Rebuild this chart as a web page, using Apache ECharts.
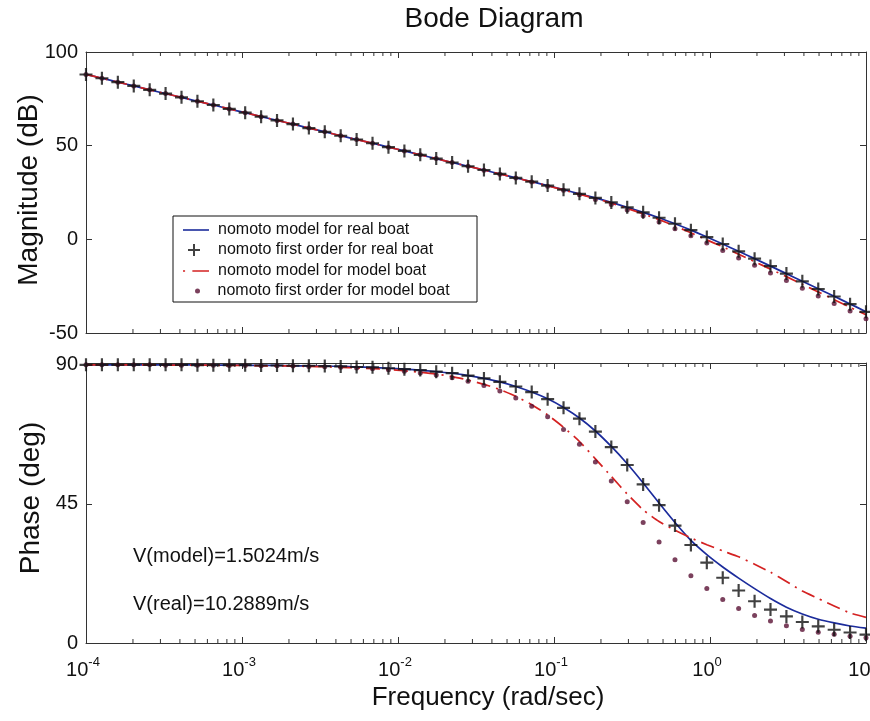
<!DOCTYPE html>
<html>
<head>
<meta charset="utf-8">
<script src="https://cdn.jsdelivr.net/npm/echarts@6/dist/echarts.min.js"></script>
<style>
html,body{margin:0;padding:0;background:#fff;}
#chart{width:870px;height:721px;}
</style>
</head>
<body>
<div id="chart"></div>
<script>
// Frequencies (rad/sec) at which the curves and markers were read
const freq = [1.000e-4, 1.265e-4, 1.600e-4, 2.024e-4, 2.560e-4, 3.237e-4, 4.095e-4, 5.179e-4, 6.551e-4, 8.286e-4,
  1.048e-3, 1.326e-3, 1.677e-3, 2.121e-3, 2.683e-3, 3.393e-3, 4.292e-3, 5.429e-3, 6.866e-3, 8.685e-3,
  1.099e-2, 1.389e-2, 1.758e-2, 2.223e-2, 2.812e-2, 3.556e-2, 4.498e-2, 5.690e-2, 7.197e-2, 9.103e-2,
  0.1151, 0.1456, 0.1842, 0.2330, 0.2947, 0.3728, 0.4715, 0.5964, 0.7543, 0.9541,
  1.207, 1.526, 1.931, 2.442, 3.089, 3.907, 4.942, 6.251, 7.906, 10.00];

// Magnitude (dB)
const magRealModel = [88.0, 86.0, 83.9, 81.9, 79.8, 77.8, 75.8, 73.7, 71.7, 69.6,
  67.6, 65.5, 63.5, 61.5, 59.4, 57.4, 55.3, 53.3, 51.3, 49.2,
  47.2, 45.1, 43.1, 41.0, 39.0, 37.0, 34.9, 32.8, 30.8, 28.7,
  26.5, 24.3, 22.1, 19.7, 17.1, 14.4, 11.5, 8.3, 4.9, 1.2,
  -2.5, -6.4, -10.3, -14.3, -18.3, -22.4, -26.4, -30.4, -34.5, -38.6];
const magRealFirst = [88.0, 86.0, 83.9, 81.9, 79.8, 77.8, 75.8, 73.7, 71.7, 69.6,
  67.6, 65.5, 63.5, 61.5, 59.4, 57.4, 55.3, 53.3, 51.3, 49.2,
  47.2, 45.1, 43.1, 41.0, 39.0, 37.0, 34.9, 32.8, 30.8, 28.7,
  26.5, 24.3, 22.1, 19.7, 17.1, 14.4, 11.5, 8.3, 4.9, 1.2,
  -2.5, -6.4, -10.3, -14.3, -18.3, -22.4, -26.5, -30.5, -34.6, -38.7];
const magModelModel = [88.0, 86.0, 83.9, 81.9, 79.8, 77.8, 75.8, 73.7, 71.7, 69.6,
  67.6, 65.5, 63.5, 61.5, 59.4, 57.4, 55.3, 53.3, 51.3, 49.2,
  47.2, 45.1, 43.1, 41.0, 39.0, 37.0, 34.9, 32.8, 30.7, 28.6,
  26.4, 24.1, 21.8, 19.3, 16.5, 13.6, 10.5, 7.1, 3.5, -0.3,
  -4.0, -8.0, -11.9, -15.9, -19.9, -24.0, -28.1, -32.2, -36.3, -40.3];
const magModelFirst = [88.0, 86.0, 83.9, 81.9, 79.8, 77.8, 75.8, 73.7, 71.7, 69.6,
  67.6, 65.5, 63.5, 61.5, 59.4, 57.4, 55.3, 53.3, 51.3, 49.2,
  47.2, 45.1, 43.1, 41.0, 39.0, 36.9, 34.8, 32.7, 30.6, 28.4,
  26.2, 23.8, 21.3, 18.6, 15.7, 12.6, 9.2, 5.6, 1.9, -2.0,
  -5.9, -9.9, -13.9, -18.0, -22.0, -26.1, -30.2, -34.2, -38.3, -42.4];

// Phase (deg)
const phRealModel = [90.0, 90.0, 90.0, 90.0, 90.0, 90.0, 90.0, 90.0, 89.9, 89.9,
  89.9, 89.8, 89.8, 89.7, 89.7, 89.6, 89.5, 89.3, 89.2, 88.9,
  88.6, 88.3, 87.8, 87.3, 86.5, 85.6, 84.5, 83.0, 81.2, 79.0,
  76.2, 72.8, 68.6, 63.6, 58.0, 51.8, 45.3, 39.0, 33.2, 28.6,
  24.6, 21.0, 17.6, 14.4, 11.6, 9.4, 7.7, 6.5, 5.5, 4.8];
const phRealFirst = [90.0, 90.0, 90.0, 90.0, 90.0, 90.0, 90.0, 89.9, 89.9, 89.9,
  89.9, 89.8, 89.8, 89.7, 89.7, 89.6, 89.5, 89.3, 89.2, 88.9,
  88.6, 88.3, 87.8, 87.3, 86.5, 85.6, 84.5, 83.0, 81.2, 78.9,
  76.1, 72.6, 68.4, 63.4, 57.6, 51.3, 44.6, 38.0, 31.7, 26.0,
  21.1, 17.0, 13.5, 10.8, 8.6, 6.8, 5.4, 4.3, 3.4, 2.7];
const phModelModel = [90.0, 90.0, 90.0, 90.0, 90.0, 89.9, 89.9, 89.9, 89.9, 89.8,
  89.8, 89.7, 89.7, 89.6, 89.5, 89.4, 89.2, 89.0, 88.8, 88.5,
  88.1, 87.6, 87.0, 86.2, 85.1, 83.7, 82.0, 79.8, 77.1, 73.8,
  69.8, 65.2, 59.6, 53.9, 48.2, 43.1, 39.3, 36.5, 34.0, 31.8,
  29.8, 27.9, 25.5, 22.9, 19.9, 16.8, 14.4, 12.0, 9.7, 8.3];
const phModelFirst = [90.0, 90.0, 90.0, 90.0, 90.0, 89.9, 89.9, 89.9, 89.9, 89.8,
  89.8, 89.7, 89.7, 89.6, 89.5, 89.4, 89.2, 89.0, 88.7, 88.4,
  87.9, 87.4, 86.7, 85.8, 84.7, 83.3, 81.5, 79.3, 76.6, 73.2,
  69.1, 64.3, 58.6, 52.4, 45.7, 39.0, 32.7, 26.9, 21.8, 17.6,
  14.1, 11.2, 8.9, 7.1, 5.6, 4.4, 3.5, 2.8, 2.2, 1.7];

// Minor tick positions of the log frequency axis
const minorTicks = [2e-4,3e-4,4e-4,5e-4,6e-4,7e-4,8e-4,9e-4,
  2e-3,3e-3,4e-3,5e-3,6e-3,7e-3,8e-3,9e-3,
  2e-2,3e-2,4e-2,5e-2,6e-2,7e-2,8e-2,9e-2,
  0.2,0.3,0.4,0.5,0.6,0.7,0.8,0.9,
  2,3,4,5,6,7,8,9];

const seriesNames = ['nomoto model for real boat', 'nomoto first order for real boat',
  'nomoto model for model boat', 'nomoto first order for model boat'];
const magTicks = [-50, 0, 50, 100];
const phaseTicks = [0, 45, 90];

const FONT = '"Liberation Sans", Arial, Helvetica, sans-serif';
const AX = '#333';
const BLUE = '#1c2c9c';
const RED = '#d42222';
const DOT = '#5a1234';
const PLUS = '#111';
const plusPath = 'path://M5,0H7V12H5Z M0,5H12V7H0Z';

const zip = (ys) => freq.map((f, i) => [f, ys[i]]);

function xAxisDef(grid, pos, labels) {
  return {
    gridIndex: grid, type: 'log', logBase: 10, min: 1e-4, max: 10, splitNumber: 5,
    position: pos,
    axisLine: { show: true, onZero: false, lineStyle: { color: AX, width: 1 } },
    axisTick: { show: true, inside: true, length: 6, lineStyle: { color: AX } },
    splitLine: { show: false },
    axisLabel: labels ? {
      show: true, margin: 13, hideOverlap: false,
      formatter: (v) => '{a|10}{b|' + Math.round(Math.log10(v)) + '}',
      rich: {
        a: { fontSize: 20, lineHeight: 24, verticalAlign: 'bottom', fontFamily: FONT, color: '#111' },
        b: { fontSize: 13, lineHeight: 13, verticalAlign: 'top', fontFamily: FONT, color: '#111', padding: [0, 6, 0, 0] }
      }
    } : { show: false }
  };
}
function yAxisDef(grid, pos, min, max, interval, labels) {
  return {
    gridIndex: grid, type: 'value', min: min, max: max, interval: interval, position: pos,
    axisLine: { show: true, onZero: false, lineStyle: { color: AX, width: 1 } },
    axisTick: { show: true, inside: true, length: 6, lineStyle: { color: AX } },
    splitLine: { show: false },
    axisLabel: labels ? { show: true, fontSize: 20, fontFamily: FONT, color: '#111', margin: 8, showMaxLabel: max === 100 } : { show: false }
  };
}

function minorSeries(xi, yi, yVal) {
  return {
    type: 'custom', xAxisIndex: xi, yAxisIndex: yi, silent: true, z: 1,
    data: minorTicks.map(v => [v, yVal]),
    encode: { x: 0, y: 1 },
    renderItem: function (params, api) {
      const x = api.coord([api.value(0), api.value(1)])[0];
      const cs = params.coordSys;
      return {
        type: 'group', children: [
          { type: 'line', shape: { x1: x, y1: cs.y + cs.height, x2: x, y2: cs.y + cs.height - 4 }, style: { stroke: AX, lineWidth: 1 } },
          { type: 'line', shape: { x1: x, y1: cs.y, x2: x, y2: cs.y + 4 }, style: { stroke: AX, lineWidth: 1 } }
        ]
      };
    }
  };
}

function seriesSet(xi, yi, a, b, c, d) {
  return [
    { name: seriesNames[0], type: 'line', xAxisIndex: xi, yAxisIndex: yi, data: zip(a), showSymbol: false, smooth: 0.2,
      lineStyle: { color: BLUE, width: 1.7 }, itemStyle: { color: BLUE }, z: 3 },
    { name: seriesNames[2], type: 'line', xAxisIndex: xi, yAxisIndex: yi, data: zip(c), showSymbol: false, smooth: 0.2,
      lineStyle: { color: RED, width: 1.7, type: [14, 6, 2, 6] }, itemStyle: { color: RED }, z: 3 },
    { name: seriesNames[3], type: 'scatter', xAxisIndex: xi, yAxisIndex: yi, data: zip(d), symbol: 'circle', symbolSize: 5,
      itemStyle: { color: DOT }, z: 4 },
    { name: seriesNames[1], type: 'scatter', xAxisIndex: xi, yAxisIndex: yi, data: zip(b), symbol: plusPath, symbolSize: 13,
      itemStyle: { color: PLUS }, z: 5 }
  ];
}

function legendDef(name, icon, left, top, h, padLeft) {
  return {
    data: [{ name: name, icon: icon }], orient: 'horizontal', left: left, top: top,
    itemWidth: 26, itemHeight: h, itemGap: 0, padding: 0, selectedMode: false,
    textStyle: { fontSize: 16, lineHeight: 16, fontFamily: FONT, color: '#111', padding: [0, 0, 0, padLeft] },
    z: 6
  };
}

const chart = echarts.init(document.getElementById('chart'), null, { renderer: 'canvas' });
const option = {
  backgroundColor: '#fff',
  animation: false,
  grid: [
    { left: 86, top: 52, width: 780, height: 281, containLabel: false, outerBoundsMode: 'none' },
    { left: 86, top: 363, width: 780, height: 280, containLabel: false, outerBoundsMode: 'none' }
  ],
  xAxis: [xAxisDef(0, 'bottom', false), xAxisDef(0, 'top', false), xAxisDef(1, 'bottom', true), xAxisDef(1, 'top', false)],
  yAxis: [yAxisDef(0, 'left', -50, 100, 50, true), yAxisDef(0, 'right', -50, 100, 50, false),
          yAxisDef(1, 'left', 0, 90.6, 45, true), yAxisDef(1, 'right', 0, 90.6, 45, false)],
  legend: [
    legendDef(seriesNames[0], 'path://M0,0h26v1.6h-26z', 183, 222, 16, 4),
    legendDef(seriesNames[1], plusPath, 188, 242, 12, 6),
    legendDef(seriesNames[2], 'path://M0,0h2v1.6h-2z M9,0h16v1.6h-16z', 183, 263, 16, 4),
    legendDef(seriesNames[3], 'circle', 195, 283, 5, 2)
  ],
  graphic: [
    { type: 'rect', z: 5, shape: { x: 173, y: 216, width: 304, height: 86 }, style: { fill: '#fff', stroke: '#111', lineWidth: 1 } },
    { type: 'text', x: 494, y: 19, style: { text: 'Bode Diagram', font: '28px ' + FONT, fill: '#111', align: 'center', verticalAlign: 'middle' } },
    { type: 'text', x: 488, y: 698, style: { text: 'Frequency (rad/sec)', font: '26px ' + FONT, fill: '#111', align: 'center', verticalAlign: 'middle' } },
    { type: 'text', x: 29, y: 190, rotation: Math.PI / 2, style: { text: 'Magnitude (dB)', font: '28px ' + FONT, fill: '#111', align: 'center', verticalAlign: 'middle' } },
    { type: 'text', x: 31, y: 498, rotation: Math.PI / 2, style: { text: 'Phase (deg)', font: '28px ' + FONT, fill: '#111', align: 'center', verticalAlign: 'middle' } },
    { type: 'text', x: 133, y: 556, style: { text: 'V(model)=1.5024m/s', font: '20px ' + FONT, fill: '#111', align: 'left', verticalAlign: 'middle' } },
    { type: 'text', x: 133, y: 604, style: { text: 'V(real)=10.2889m/s', font: '20px ' + FONT, fill: '#111', align: 'left', verticalAlign: 'middle' } }
  ],
  series: [].concat(
    seriesSet(0, 0, magRealModel, magRealFirst, magModelModel, magModelFirst),
    seriesSet(2, 2, phRealModel, phRealFirst, phModelModel, phModelFirst),
    [minorSeries(0, 0, 0), minorSeries(2, 2, 45)]
  )
};
chart.setOption(option);
</script>
</body>
</html>
